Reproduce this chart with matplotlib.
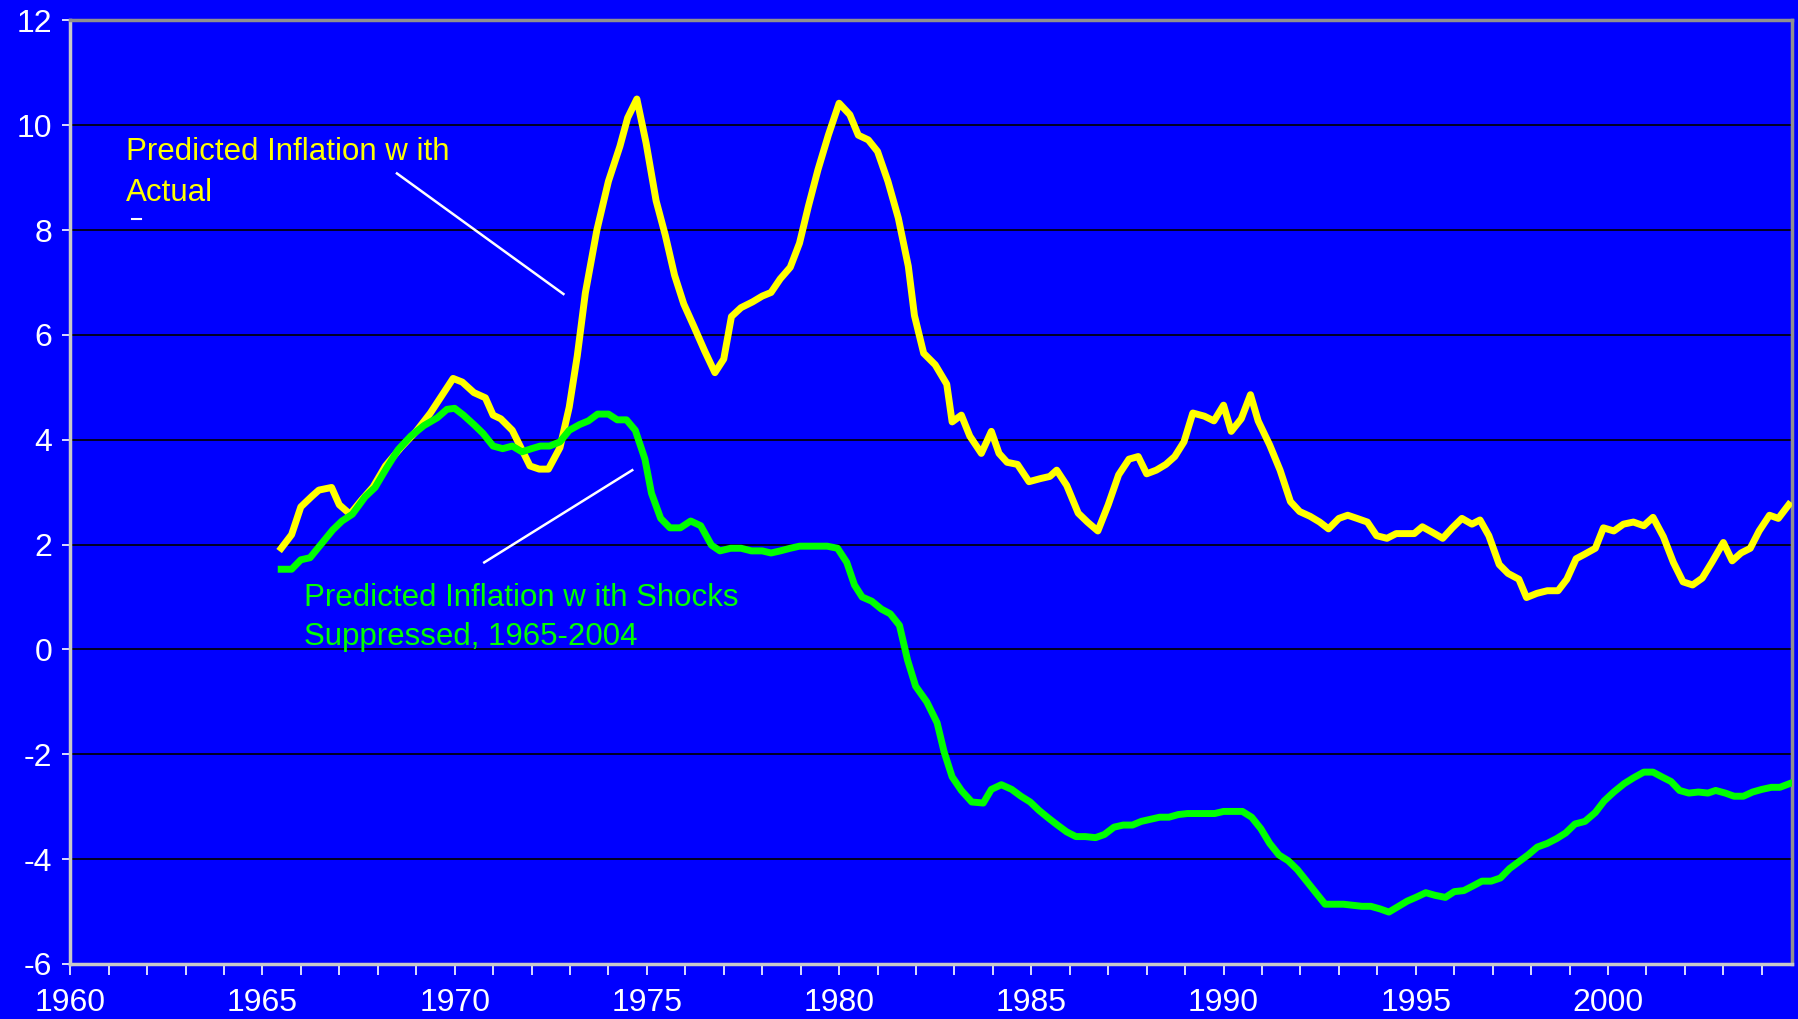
import matplotlib
matplotlib.use("Agg")
import matplotlib.pyplot as plt
from matplotlib.ticker import MultipleLocator

plt.rcParams["axes.unicode_minus"] = False
plt.rcParams["font.family"] = "Liberation Sans"

# predicted inflation with actual shocks (yellow)
act_year = [1965.49, 1965.76, 1966.0, 1966.3, 1966.47, 1966.8, 1967.0, 1967.28, 1967.58, 1967.88,
            1968.2, 1968.6, 1969.0, 1969.37, 1969.7, 1969.96, 1970.2, 1970.5, 1970.8, 1971.0,
            1971.2, 1971.5, 1971.75, 1971.96, 1972.2, 1972.44, 1972.74, 1972.98, 1973.19, 1973.4,
            1973.7, 1974.0, 1974.3, 1974.5, 1974.74, 1974.98, 1975.24, 1975.48, 1975.72, 1975.96,
            1976.23, 1976.5, 1976.77, 1977.0, 1977.2, 1977.45, 1977.75, 1978.0, 1978.23, 1978.47,
            1978.73, 1978.97, 1979.2, 1979.45, 1979.72, 1980.0, 1980.28, 1980.5, 1980.76, 1981.0,
            1981.27, 1981.54, 1981.8, 1981.96, 1982.2, 1982.5, 1982.8, 1982.94, 1983.18, 1983.4,
            1983.7, 1983.96, 1984.16, 1984.37, 1984.64, 1984.94, 1985.24, 1985.48, 1985.66, 1985.92,
            1986.22, 1986.46, 1986.73, 1987.0, 1987.27, 1987.54, 1987.78, 1988.0, 1988.25, 1988.5,
            1988.73, 1988.97, 1989.2, 1989.5, 1989.75, 1990.0, 1990.2, 1990.46, 1990.7, 1990.9,
            1991.2, 1991.47, 1991.74, 1991.98, 1992.25, 1992.5, 1992.73, 1993.0, 1993.23, 1993.47,
            1993.74, 1993.98, 1994.25, 1994.49, 1994.73, 1994.96, 1995.17, 1995.44, 1995.7, 1995.95,
            1996.2, 1996.46, 1996.67, 1996.9, 1997.17, 1997.4, 1997.68, 1997.88, 1998.15, 1998.42,
            1998.7, 1998.93, 1999.17, 1999.4, 1999.67, 1999.88, 2000.15, 2000.4, 2000.66, 2000.93,
            2001.17, 2001.44, 2001.7, 2001.95, 2002.2, 2002.45, 2002.7, 2003.0, 2003.23, 2003.46,
            2003.7, 2003.93, 2004.2, 2004.43, 2004.7]
act_val = [1.93, 2.19, 2.72, 2.93, 3.04, 3.09, 2.76, 2.58, 2.85, 3.1,
           3.5, 3.85, 4.16, 4.51, 4.88, 5.17, 5.1, 4.9, 4.8, 4.47,
           4.4, 4.18, 3.81, 3.5, 3.44, 3.44, 3.85, 4.62, 5.6, 6.8,
           8.0, 8.93, 9.6, 10.14, 10.5, 9.66, 8.56, 7.9, 7.14, 6.59,
           6.15, 5.7, 5.28, 5.54, 6.35, 6.52, 6.63, 6.74, 6.81, 7.07,
           7.29, 7.75, 8.45, 9.15, 9.81, 10.42, 10.2, 9.81, 9.72, 9.5,
           8.93, 8.23, 7.31, 6.37, 5.65, 5.43, 5.06, 4.34, 4.47, 4.07,
           3.74, 4.16, 3.74, 3.57, 3.53, 3.2, 3.26, 3.3, 3.42, 3.13,
           2.6, 2.43, 2.26, 2.76, 3.33, 3.63, 3.68, 3.35, 3.42, 3.53,
           3.68, 3.96, 4.51, 4.45, 4.36, 4.66, 4.16, 4.4, 4.86, 4.36,
           3.9, 3.42, 2.82, 2.63, 2.54, 2.43, 2.3, 2.5, 2.56, 2.5,
           2.43, 2.17, 2.12, 2.21, 2.21, 2.21, 2.34, 2.23, 2.12, 2.32,
           2.5, 2.39, 2.47, 2.17, 1.62, 1.45, 1.34, 0.99, 1.07, 1.12,
           1.12, 1.34, 1.73, 1.82, 1.93, 2.32, 2.26, 2.39, 2.43, 2.36,
           2.52, 2.15, 1.66, 1.29, 1.23, 1.36, 1.66, 2.04, 1.69, 1.84,
           1.93, 2.26, 2.56, 2.5, 2.76]

# predicted inflation with shocks suppressed (green)
sup_year = [1965.49, 1965.76, 1966.0, 1966.24, 1966.53, 1966.83, 1967.07, 1967.34, 1967.67, 1967.93,
            1968.23, 1968.53, 1968.86, 1969.2, 1969.55, 1969.8, 1970.0, 1970.23, 1970.5, 1970.74,
            1971.0, 1971.25, 1971.5, 1971.75, 1972.0, 1972.23, 1972.47, 1972.74, 1972.98, 1973.25,
            1973.48, 1973.72, 1974.0, 1974.23, 1974.47, 1974.7, 1974.95, 1975.12, 1975.36, 1975.6,
            1975.87, 1976.14, 1976.4, 1976.68, 1976.9, 1977.18, 1977.45, 1977.72, 1978.0, 1978.23,
            1978.47, 1978.73, 1978.97, 1979.2, 1979.45, 1979.69, 1979.96, 1980.2, 1980.4, 1980.6,
            1980.85, 1981.1, 1981.33, 1981.57, 1981.78, 1981.99, 1982.28, 1982.55, 1982.73, 1982.94,
            1983.18, 1983.45, 1983.75, 1983.96, 1984.22, 1984.49, 1984.73, 1984.97, 1985.2, 1985.45,
            1985.68, 1985.92, 1986.16, 1986.4, 1986.67, 1986.9, 1987.15, 1987.39, 1987.63, 1987.86,
            1988.1, 1988.34, 1988.58, 1988.82, 1989.06, 1989.3, 1989.53, 1989.77, 1990.0, 1990.25,
            1990.49, 1990.73, 1990.97, 1991.2, 1991.44, 1991.68, 1991.92, 1992.16, 1992.4, 1992.64,
            1992.88, 1993.12, 1993.35, 1993.6, 1993.83, 1994.07, 1994.3, 1994.55, 1994.78, 1995.0,
            1995.26, 1995.5, 1995.77, 1996.0, 1996.25, 1996.49, 1996.72, 1996.96, 1997.2, 1997.44,
            1997.68, 1997.92, 1998.16, 1998.42, 1998.66, 1998.9, 1999.14, 1999.4, 1999.67, 1999.9,
            2000.15, 2000.42, 2000.66, 2000.93, 2001.17, 2001.4, 2001.64, 2001.86, 2002.1, 2002.35,
            2002.6, 2002.8, 2003.05, 2003.28, 2003.52, 2003.76, 2004.0, 2004.25, 2004.47, 2004.72]
sup_val = [1.53, 1.53, 1.71, 1.75, 2.01, 2.28, 2.45, 2.58, 2.91, 3.09,
           3.46, 3.81, 4.07, 4.27, 4.42, 4.58, 4.6, 4.47, 4.29, 4.12,
           3.88, 3.83, 3.88, 3.77, 3.83, 3.88, 3.88, 3.96, 4.18, 4.29,
           4.36, 4.49, 4.49, 4.38, 4.38, 4.18, 3.63, 2.98, 2.5, 2.32,
           2.32, 2.45, 2.36, 1.99, 1.88, 1.93, 1.93, 1.88, 1.88, 1.84,
           1.88, 1.93, 1.97, 1.97, 1.97, 1.97, 1.93, 1.66, 1.23, 1.0,
           0.92, 0.77, 0.68, 0.46, -0.2, -0.7, -1.0, -1.4, -1.95, -2.43,
           -2.69, -2.91, -2.93, -2.67, -2.58, -2.67, -2.8, -2.91, -3.07, -3.22,
           -3.35, -3.48, -3.57, -3.57, -3.59, -3.53, -3.39, -3.35, -3.35, -3.28,
           -3.24, -3.2, -3.2, -3.15, -3.13, -3.13, -3.13, -3.13, -3.09, -3.09,
           -3.09, -3.2, -3.42, -3.7, -3.92, -4.03, -4.2, -4.42, -4.64, -4.86,
           -4.86, -4.86, -4.88, -4.9, -4.9, -4.95, -5.01, -4.9, -4.8, -4.73,
           -4.64, -4.69, -4.73, -4.62, -4.6, -4.51, -4.42, -4.42, -4.36, -4.18,
           -4.05, -3.92, -3.77, -3.7, -3.61, -3.5, -3.33, -3.28, -3.11, -2.89,
           -2.72, -2.56, -2.45, -2.34, -2.34, -2.43, -2.52, -2.69, -2.74, -2.72,
           -2.74, -2.69, -2.74, -2.8, -2.8, -2.72, -2.67, -2.63, -2.63, -2.56]

year_ticks = [1960, 1965, 1970, 1975, 1980, 1985, 1990, 1995, 2000]
y_ticks = [-6, -4, -2, 0, 2, 4, 6, 8, 10, 12]

blue = "#0000FF"
fig = plt.figure(figsize=(17.99, 10.19), dpi=100, facecolor=blue)
ax = fig.add_axes([0.039, 0.054, 0.957, 0.926], facecolor=blue)

ax.plot(act_year, act_val, color="#FFFF00", lw=5, solid_joinstyle="round", zorder=3)
ax.plot(sup_year, sup_val, color="#00FF00", lw=5, solid_joinstyle="round", zorder=4)

ax.set_xlim(1960, 2004.78)
ax.set_ylim(-6, 12)
ax.set_yticks(y_ticks)
ax.set_xticks(year_ticks)
ax.xaxis.set_minor_locator(MultipleLocator(1))
ax.yaxis.grid(True, color="black", lw=1.2)
ax.set_axisbelow(True)

ax.tick_params(axis="x", which="both", direction="out", length=8, width=1.2,
               color="white", labelcolor="white", labelsize=23, pad=9)
ax.tick_params(axis="y", direction="out", length=6, width=1.2,
               color="white", labelcolor="white", labelsize=23, pad=7)

ax.spines["left"].set_color("#c8c8c8")
ax.spines["bottom"].set_color("#c8c8c8")
ax.spines["top"].set_color("#909090")
ax.spines["right"].set_color("#909090")
for s in ax.spines.values():
    s.set_linewidth(2.5)

ax.text(1961.45, 9.78, "Predicted Inflation w ith\nActual", color="#FFFF00",
        fontsize=22.5, va="top", linespacing=1.5)
ax.text(1966.08, 1.27, "Predicted Inflation w ith Shocks\nSuppressed, 1965-2004", color="#00FF00",
        fontsize=22.5, va="top", linespacing=1.4)

ax.plot([1968.5, 1972.83], [9.08, 6.78], color="white", lw=1.8, zorder=2)
ax.plot([1970.77, 1974.62], [1.66, 3.42], color="white", lw=1.8, zorder=2)
ax.plot([1961.6, 1961.85], [8.22, 8.22], color="white", lw=1.5, zorder=2)

fig.savefig("out.png", dpi=100, facecolor=blue)
